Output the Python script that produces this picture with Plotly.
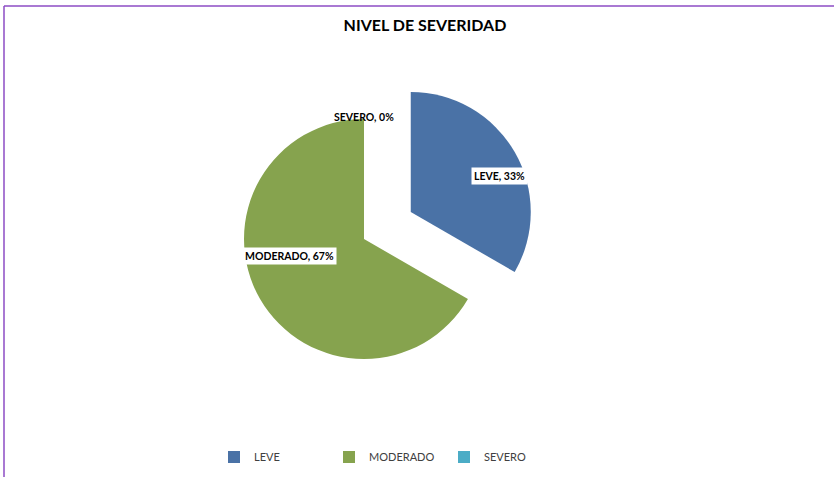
import math

import plotly.graph_objects as go

# data
labels = ["LEVE", "MODERADO", "SEVERO"]
values = [1, 2, 0]
percents = ["33%", "67%", "0%"]
colors = ["#4A72A6", "#86A34E", "#4BACC6"]
pulls = [0.45, 0, 0]

W, H = 834, 477
CX, CY, R = 364, 239, 120          # pie centre / radius in px
SIDE = 2 * R * (1 + max(pulls))

fig = go.Figure()
fig.add_trace(go.Pie(
    labels=labels, values=values, sort=False, direction="clockwise", rotation=0,
    pull=pulls, marker=dict(colors=colors, line=dict(width=0)),
    textinfo="none", hoverinfo="label+percent",
    domain=dict(x=[(CX - SIDE / 2) / W, (CX + SIDE / 2) / W],
                y=[1 - (CY + SIDE / 2) / H, 1 - (CY - SIDE / 2) / H]),
))

# data labels in white boxes, placed along each slice's mid angle
# (radial factor, vertical squash) per label
label_r = [0.85, 0.72, 1.09]
label_sq = [0.70, 0.40, 1.0]
total = sum(values)
acc = 0
for lab, v, pct, pl, k, sq in zip(labels, values, percents, pulls, label_r, label_sq):
    mid = (acc + v / 2) / total * 2 * math.pi
    acc += v
    ox = CX + pl * R * math.sin(mid)
    oy = CY - pl * R * math.cos(mid)
    px = ox + k * R * math.sin(mid)
    py = oy - k * R * math.cos(mid) * sq
    fig.add_annotation(x=px / W, y=1 - py / H, xref="paper", yref="paper",
                       text=f"<b>{lab}, {pct}</b>", showarrow=False,
                       bgcolor="white" if v else "rgba(0,0,0,0)", borderpad=2,
                       font=dict(family="Lato", size=10.5, color="black"))

# purple frame (top and left edges)
fig.add_shape(type="line", xref="paper", yref="paper", x0=4 / W, x1=1, y0=1 - 6 / H, y1=1 - 6 / H,
              line=dict(color="#8C4CC4", width=1.5))
fig.add_shape(type="line", xref="paper", yref="paper", x0=4 / W, x1=4 / W, y0=0, y1=1 - 6 / H,
              line=dict(color="#8C4CC4", width=1.5))

fig.update_layout(
    width=W, height=H, paper_bgcolor="white", plot_bgcolor="white",
    margin=dict(l=0, r=0, t=0, b=0),
    title=dict(text="<b>NIVEL DE SEVERIDAD</b>", x=425 / W, xanchor="center",
               y=1 - 25 / H, yanchor="middle",
               font=dict(family="Lato", size=16, color="black")),
    legend=dict(orientation="h", x=214 / W, xanchor="left", y=1 - 457 / H, yanchor="middle",
                font=dict(family="Lato", size=11, color="#404040"),
                entrywidth=70, itemwidth=30, traceorder="normal"),
    showlegend=True,
)
fig.write_html("out.html", config={"displayModeBar": False},
               post_script="document.body.style.margin='0';")
